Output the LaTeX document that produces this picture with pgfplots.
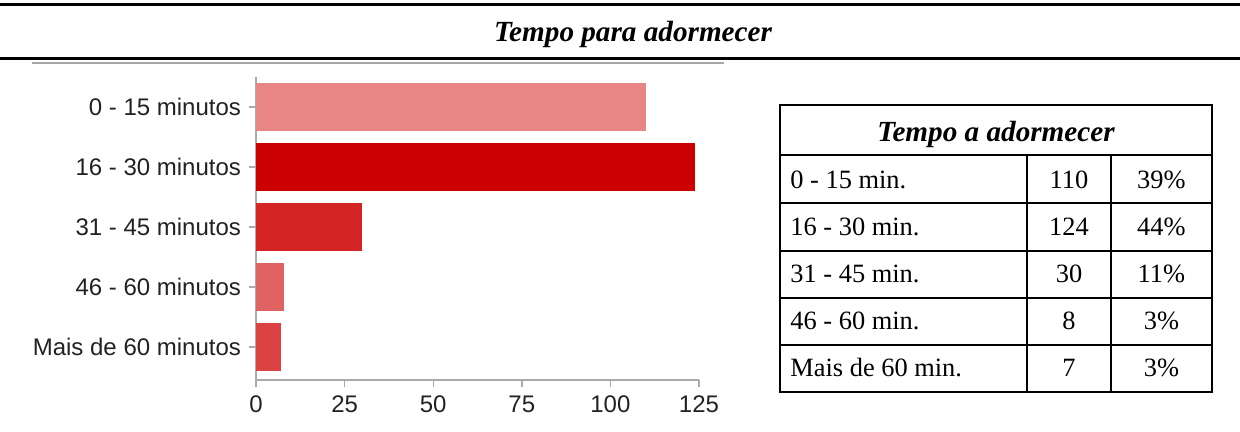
\documentclass[border=0pt]{standalone}
\usepackage{fontspec}
\setmainfont{Liberation Serif}
\newfontfamily\lsans{Liberation Sans}
\usepackage{pgfplots}
\pgfplotsset{compat=1.18}
\definecolor{cA}{HTML}{E88686}
\definecolor{cB}{HTML}{CC0000}
\definecolor{cC}{HTML}{D52424}
\definecolor{cD}{HTML}{E06262}
\definecolor{cE}{HTML}{DC4242}
\definecolor{axgray}{HTML}{AAAAAA}
\definecolor{txt}{HTML}{222222}
\begin{document}
\begin{tikzpicture}
\useasboundingbox (0,0) rectangle (620pt,-216pt);
% header rules
\draw[line width=1.5pt] (0,-2.5pt) -- (620pt,-2.5pt);
\draw[line width=1.5pt] (0,-29.5pt) -- (620pt,-29.5pt);
\draw[line width=0.6pt, gray!70] (16pt,-31.5pt) -- (362pt,-31.5pt);
\node[anchor=base, font=\fontsize{14.6}{17}\selectfont\bfseries\itshape] at (316.5pt,-21pt) {Tempo para adormecer};
% bar chart
\begin{axis}[
  at={(128pt,-190pt)}, anchor=south west,
  scale only axis, width=221.5pt, height=151.5pt,
  xbar, bar width=24pt, bar shift=0pt,
  xmin=0, xmax=125, ymin=-0.5, ymax=4.55, y dir=reverse,
  axis x line*=bottom, axis y line*=left,
  axis line style={axgray, line width=0.7pt},
  xtick={0,25,50,75,100,125},
  ytick={0,1,2,3,4},
  yticklabels={0 - 15 minutos,16 - 30 minutos,31 - 45 minutos,46 - 60 minutos,Mais de 60 minutos},
  tick align=outside, major tick length=3.5pt,
  tick style={axgray, line width=0.7pt},
  ticklabel style={font=\lsans\fontsize{12}{14}\selectfont, text=txt},
  /pgf/number format/assume math mode=true,
  xticklabel style={yshift=-1pt},
  yticklabel style={xshift=-0.5pt},
  clip=false,
]
\addplot[fill=cA, draw=none] coordinates {(110,0)};
\addplot[fill=cB, draw=none] coordinates {(124,1)};
\addplot[fill=cC, draw=none] coordinates {(30,2)};
\addplot[fill=cD, draw=none] coordinates {(8,3)};
\addplot[fill=cE, draw=none] coordinates {(7,4)};
\end{axis}
% table
\draw[line width=1pt] (390pt,-52.5pt) rectangle (606pt,-196pt);
\foreach \yy in {77.5,101.5,125.5,149,172.5}
  \draw[line width=1pt] (390pt,-\yy pt) -- (606pt,-\yy pt);
\draw[line width=1pt] (513.5pt,-77.5pt) -- (513.5pt,-196pt);
\draw[line width=1pt] (555.5pt,-77.5pt) -- (555.5pt,-196pt);
\node[anchor=base, font=\fontsize{14.6}{17}\selectfont\bfseries\itshape] at (498pt,-71pt) {Tempo a adormecer};
\begin{scope}[every node/.style={font=\fontsize{13.2}{15}\selectfont}]
\node[anchor=base west, inner xsep=0pt] at (395pt,-94.5pt) {0 - 15 min.};
\node[anchor=base west, inner xsep=0pt] at (395pt,-118pt) {16 - 30 min.};
\node[anchor=base west, inner xsep=0pt] at (395pt,-141.5pt) {31 - 45 min.};
\node[anchor=base west, inner xsep=0pt] at (395pt,-164.8pt) {46 - 60 min.};
\node[anchor=base west, inner xsep=0pt] at (395pt,-188pt) {Mais de 60 min.};
\node[anchor=base] at (534.5pt,-94.5pt) {110};
\node[anchor=base] at (534.5pt,-118pt) {124};
\node[anchor=base] at (534.5pt,-141.5pt) {30};
\node[anchor=base] at (534.5pt,-164.8pt) {8};
\node[anchor=base] at (534.5pt,-188pt) {7};
\node[anchor=base] at (580.7pt,-94.5pt) {39\%};
\node[anchor=base] at (580.7pt,-118pt) {44\%};
\node[anchor=base] at (580.7pt,-141.5pt) {11\%};
\node[anchor=base] at (580.7pt,-164.8pt) {3\%};
\node[anchor=base] at (580.7pt,-188pt) {3\%};
\end{scope}
\end{tikzpicture}
\end{document}
